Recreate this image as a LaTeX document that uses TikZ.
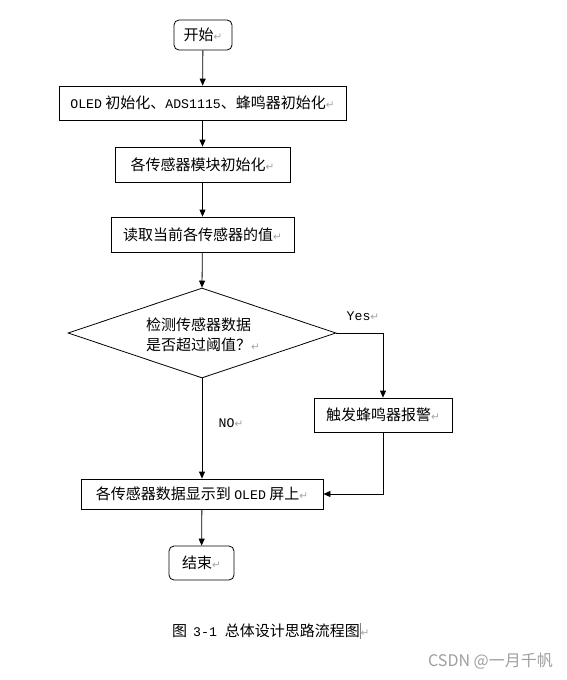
\documentclass[tikz,border=0pt]{standalone}
\usepackage{fontspec}
\setmainfont{Noto Sans CJK SC}
\newfontfamily\monofnt[Scale=0.88]{Liberation Mono}
\newfontfamily\symfnt{DejaVu Sans}
\usetikzlibrary{arrows.meta,shapes.geometric}
\newcommand{\retmark}{{\color{gray!70}\symfnt\fontsize{10.5}{11}\selectfont ↵}}
\begin{document}
\begin{tikzpicture}[x=1pt,y=-1pt,
  every node/.style={font=\fontsize{15}{20}\selectfont},
  box/.style={draw, line width=0.8pt, rectangle, inner sep=0pt},
  term/.style={box, rounded corners=5pt},
  flow/.style={line width=0.8pt, -{Triangle[length=7pt,width=6pt]}},
  lbl/.style={inner sep=0pt}]
\useasboundingbox (0,0) rectangle (566,680);
\fill[white] (0,0) rectangle (566,680);
\node[term, minimum width=58pt, minimum height=30pt] (start) at (203,35) {开始\retmark};
\node[box, minimum width=287pt, minimum height=34pt] (b1) at (202.5,103) {{\monofnt OLED} 初始化、{\monofnt ADS1115}、蜂鸣器初始化\retmark};
\node[box, minimum width=175pt, minimum height=35pt] (b2) at (202.5,164.5) {各传感器模块初始化\retmark};
\node[box, minimum width=183pt, minimum height=35pt] (b3) at (202.5,234.5) {读取当前各传感器的值\retmark};
\node[draw, line width=0.8pt, diamond, aspect=2.98, inner sep=0pt, minimum width=268pt, minimum height=90pt] (dia) at (202,333) {};
\node[lbl, align=left] (diat) at (203,335) {检测传感器数据\\是否超过阈值？\retmark};
\node[box, minimum width=138pt, minimum height=34pt] (trig) at (383,415) {触发蜂鸣器报警\retmark};
\node[box, minimum width=242pt, minimum height=30pt] (disp) at (202,494) {各传感器数据显示到 {\monofnt OLED} 屏上\retmark};
\node[term, minimum width=65pt, minimum height=34pt] (end) at (201.5,563) {结束\retmark};
\node[lbl] (yes) at (363,316) {\monofnt Yes\retmark};
\node[lbl] (no) at (231,423) {\monofnt NO\retmark};
\draw[flow] (start) -- (b1);
\draw[flow] (b1) -- (b2);
\draw[flow] (b2) -- (b3);
\draw[flow] (b3) -- (dia.north);
\draw[flow] (dia.east) -| (trig.north);
\draw[flow] (dia.south) -- (disp.north);
\draw[flow] (trig.south) |- (disp.east);
\draw[flow] (disp) -- (end);
\node[lbl, anchor=west, font=\fontsize{15}{18}\selectfont] (cap) at (172,631) {图\hspace{6pt}{\monofnt 3-1}\hspace{8pt}总体设计思路流程图{\color{gray}\rule[-3pt]{0.6pt}{16pt}}\retmark};
\node[lbl, anchor=east, text=gray!75, font=\fontsize{16}{18}\selectfont] (wm) at (553,661) {CSDN @一月千帆};
\end{tikzpicture}
\end{document}
